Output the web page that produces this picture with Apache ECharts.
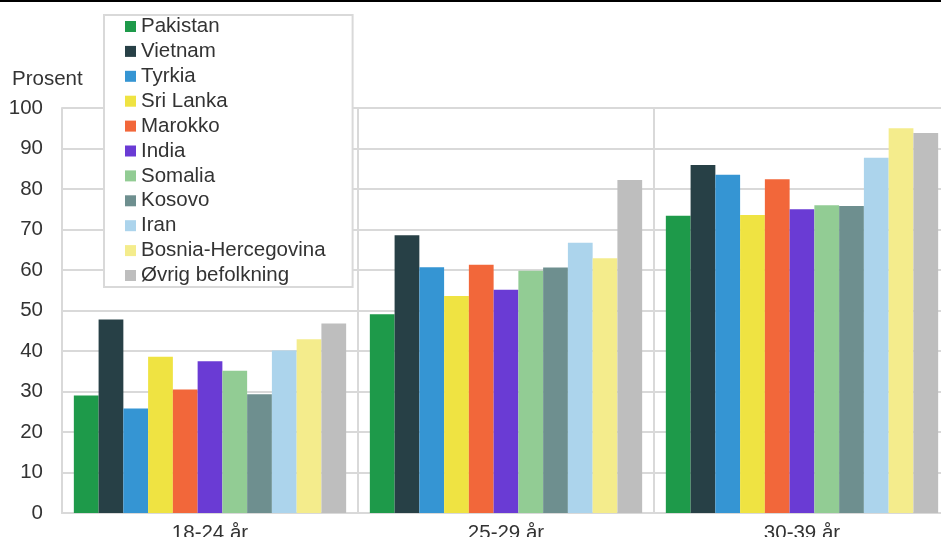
<!DOCTYPE html>
<html>
<head>
<meta charset="utf-8">
<script src="https://cdn.jsdelivr.net/npm/echarts@6/dist/echarts.min.js"></script>
<style>
html,body{margin:0;padding:0;background:#fff;}
#c{width:941px;height:537px;}
</style>
</head>
<body>
<div id="c"></div>
<script>
const categories = ['18-24 år', '25-29 år', '30-39 år'];
const seriesNames = ['Pakistan', 'Vietnam', 'Tyrkia', 'Sri Lanka', 'Marokko', 'India', 'Somalia', 'Kosovo', 'Iran', 'Bosnia-Hercegovina', 'Øvrig befolkning'];
const pakistan = [29.0, 49.1, 73.4];
const vietnam = [47.8, 68.6, 85.9];
const tyrkia = [25.8, 60.7, 83.5];
const sriLanka = [38.6, 53.6, 73.6];
const marokko = [30.5, 61.3, 82.4];
const india = [37.5, 55.1, 75.0];
const somalia = [35.1, 59.8, 76.0];
const kosovo = [29.3, 60.6, 75.8];
const iran = [40.1, 66.7, 87.7];
const bosnia = [42.9, 62.9, 95.0];
const ovrig = [46.8, 82.2, 93.8];
const yTicks = [0, 10, 20, 30, 40, 50, 60, 70, 80, 90, 100];

const seriesData = [pakistan, vietnam, tyrkia, sriLanka, marokko, india, somalia, kosovo, iran, bosnia, ovrig];
const colors = ['#1e9a4a', '#274046', '#3595d3', '#efe342', '#f2673a', '#6a3bd4', '#92cc94', '#6e8f8f', '#acd4ec', '#f4ec8c', '#bebebe'];

const chart = echarts.init(document.getElementById('c'), null, {renderer: 'canvas'});
const font = '"Liberation Sans", Arial, sans-serif';
chart.setOption({
  animation: false,
  color: colors,
  textStyle: {fontFamily: font},
  grid: {left: 62, top: 108, bottom: 24, right: -9, containLabel: false, outerBoundsMode: 'none'},
  graphic: [
    {type: 'rect', shape: {x: 0, y: 0, width: 941, height: 2}, style: {fill: '#000'}},
    {type: 'text', left: 12, top: 69, style: {text: 'Prosent', fontSize: 20.5, fontFamily: font, fill: '#333'}}
  ],
  legend: {
    orient: 'vertical',
    left: 104,
    top: 15,
    data: seriesNames,
    icon: 'rect',
    itemWidth: 11,
    itemHeight: 11,
    itemGap: 3.9,
    padding: [1, 27, 1, 21],
    backgroundColor: '#fff',
    borderColor: '#d9d9d9',
    borderWidth: 2,
    textStyle: {fontSize: 20.5, lineHeight: 20, color: '#333', fontFamily: font},
    selectedMode: false
  },
  xAxis: {
    type: 'category',
    data: categories,
    axisLine: {show: true, lineStyle: {color: '#d9d9d9', width: 2}},
    axisTick: {show: false},
    splitLine: {show: true, lineStyle: {color: '#d9d9d9', width: 2}},
    axisLabel: {fontSize: 20.5, color: '#333', margin: 10, fontFamily: font}
  },
  yAxis: {
    type: 'value',
    min: 0,
    max: 100,
    interval: 10,
    axisLine: {show: true, lineStyle: {color: '#d9d9d9', width: 2}},
    axisTick: {show: false},
    splitLine: {show: true, lineStyle: {color: '#d9d9d9', width: 2}},
    axisLabel: {fontSize: 20.5, color: '#333', margin: 19, fontFamily: font,
      formatter: v => yTicks.includes(v) ? String(v) : ''}
  },
  series: seriesNames.map((n, i) => ({
    name: n,
    type: 'bar',
    data: seriesData[i],
    barGap: '0%',
    barCategoryGap: '8%',
    itemStyle: {color: colors[i]}
  }))
});
</script>
</body>
</html>
